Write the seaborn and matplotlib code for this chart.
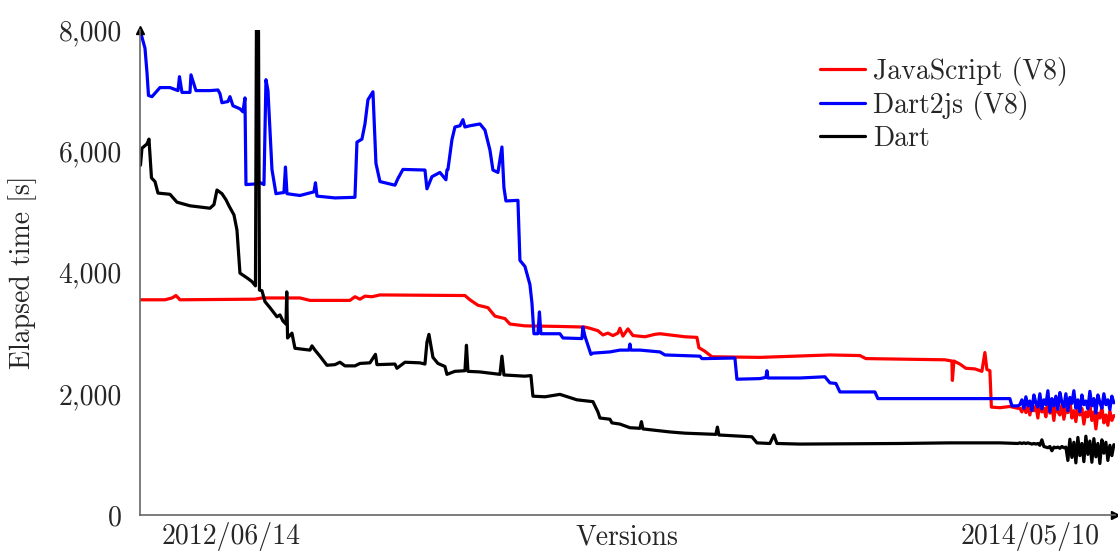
import numpy as np
import pandas as pd
import matplotlib
matplotlib.use("Agg")
import matplotlib.pyplot as plt
from matplotlib.ticker import FuncFormatter
import seaborn as sns

# version index vs elapsed time [s]
js_versions = [0, 25, 32, 36, 40, 115, 122, 160, 170, 210, 215, 220, 225, 232, 240,
               325, 330, 338, 348, 355, 365, 370, 385, 420, 445, 450, 458, 463, 468, 473,
               478, 480, 483, 488, 493, 505, 515, 520, 540, 545, 557, 559, 565, 572, 620,
               655, 690, 720, 726, 805, 812, 812.5, 814, 820, 826, 835, 842, 845, 847, 850,
               851.5, 860, 870, 878]
js_time = [3550, 3550, 3580, 3620, 3550, 3560, 3580, 3580, 3540, 3540, 3600, 3560, 3610, 3600, 3630,
           3620, 3550, 3460, 3420, 3280, 3240, 3150, 3120, 3110, 3100, 3080, 3040, 2970, 3000, 2960,
           3000, 3080, 2950, 3070, 2960, 2940, 2980, 2990, 2950, 2940, 2930, 2760, 2700, 2610, 2600,
           2620, 2640, 2630, 2580, 2560, 2540, 2220, 2540, 2490, 2420, 2410, 2370, 2680, 2400, 2380,
           1780, 1770, 1790, 1760]

d2js_versions = [0, 5, 7, 8.5, 12, 20, 30, 38, 39.5, 42, 50, 51, 56, 70, 78, 80, 82, 88, 90, 93,
                 100, 103, 105, 106, 115, 118, 124, 126, 128, 132, 136, 144, 145.5, 147, 160,
                 174, 175.5, 177, 195, 215, 217, 222, 225, 228, 233, 236, 240, 255, 258, 263,
                 285, 287, 292, 300, 306, 307, 308, 312, 315, 320, 323, 325, 330, 340, 345,
                 350, 353, 358, 362, 364, 366, 378, 380, 385, 390, 392, 394, 398, 399.5, 401,
                 420, 423, 442, 443, 445, 451, 453, 470, 480, 489, 490, 491, 500, 520, 525,
                 560, 562, 565, 595, 597, 620, 626, 627, 628, 660, 685, 690, 696, 700, 735,
                 738, 870, 872, 878]
d2js_time = [8000, 7700, 7300, 6920, 6900, 7050, 7050, 7000, 7230, 6970, 6970, 7260, 7000, 7000, 7010,
             6950, 6800, 6820, 6900, 6750, 6700, 6650, 6880, 5450, 5460, 5500, 5450, 7180, 7000, 5700,
             5300, 5320, 5740, 5300, 5270, 5330, 5480, 5260, 5230, 5240, 6150, 6200, 6450, 6850, 6980,
             5800, 5500, 5440, 5550, 5700, 5690, 5380, 5580, 5650, 5530, 5690, 5700, 6190, 6400, 6420,
             6520, 6400, 6420, 6450, 6350, 6020, 5690, 5650, 6070, 5400, 5180, 5190, 4200, 4100, 3800,
             3500, 2990, 2990, 3350, 2990, 2990, 2920, 2910, 3100, 2950, 2650, 2670, 2690, 2720, 2720,
             2820, 2720, 2720, 2690, 2640, 2620, 2580, 2580, 2590, 2240, 2250, 2270, 2380, 2260, 2260,
             2280, 2180, 2170, 2030, 2030, 1920, 1920, 1800, 1800]

dart_versions = [0.5, 2, 7, 9, 11.5, 15, 18, 30, 37, 50, 70, 74, 77, 82, 86, 89, 94, 97, 100, 108,
                 112, 115.5, 116.5, 118.5, 119.5, 122, 125, 130, 137, 140, 143, 146, 146.8, 147.6,
                 152, 155, 170, 172, 175, 180, 187, 195, 200, 205, 215, 220, 230, 235.5, 237, 255,
                 257, 265, 280, 285, 287, 289, 293, 298, 305, 307, 315, 325, 326.5, 328, 340, 350,
                 360, 362, 364, 385, 391, 393, 405, 420, 437, 453, 458, 460, 470, 472, 480, 490,
                 500, 501.5, 503, 530, 545, 576, 577.5, 579, 600, 612, 617, 630, 634, 637, 660,
                 760, 810, 860, 878]
dart_time = [5770, 6050, 6120, 6200, 5560, 5500, 5310, 5290, 5160, 5100, 5060, 5120, 5360, 5300, 5200,
             5100, 4950, 4700, 3990, 3900, 3850, 3780, 8200, 8200, 3710, 3700, 3520, 3420, 3270, 3300,
             3200, 3150, 3680, 2920, 3000, 2750, 2720, 2790, 2720, 2620, 2470, 2480, 2520, 2460, 2460,
             2500, 2510, 2650, 2480, 2490, 2420, 2520, 2510, 2490, 2850, 2980, 2600, 2500, 2450, 2320,
             2370, 2380, 2800, 2370, 2360, 2340, 2320, 2620, 2310, 2290, 2300, 1960, 1950, 1990, 1900,
             1870, 1700, 1600, 1580, 1520, 1500, 1440, 1430, 1540, 1420, 1370, 1350, 1330, 1450, 1320,
             1300, 1290, 1190, 1180, 1320, 1180, 1170, 1180, 1190, 1190, 1180]

# last versions (every second one), noisy measurements
tail_versions = list(range(880, 976, 2))
js_tail = [1760, 1700, 1820, 1690, 1780, 1650, 1850, 1720, 1800, 1600, 1880, 1700, 1760, 1620, 1900, 1680,
           1790, 1560, 1850, 1700, 1650, 1820, 1580, 1760, 1690, 1880, 1600, 1720, 1540, 1800, 1650, 1760,
           1500, 1700, 1620, 1820, 1560, 1700, 1420, 1680, 1600, 1780, 1520, 1650, 1480, 1720, 1560, 1640]
d2js_tail = [1820, 1900, 1760, 1950, 1800, 1880, 1720, 1980, 1850, 1780, 2000, 1750, 1900, 1820, 2050, 1700,
             1920, 1800, 1960, 1740, 2020, 1860, 1780, 2000, 1720, 1940, 1840, 2050, 1760, 1900, 1700, 1980,
             1820, 1880, 1750, 2040, 1800, 1920, 1680, 1980, 1860, 1760, 2000, 1820, 1900, 1740, 1960, 1850]
dart_tail = [1190, 1180, 1190, 1180, 1190, 1180, 1170, 1180, 1170, 1180, 1150, 1240, 1130, 1120, 1110, 1130,
             1060, 1120, 1110, 1120, 1100, 1130, 1110, 1120, 900, 1250, 950, 1200, 860, 1280, 980, 1180,
             880, 1300, 1000, 1220, 870, 1260, 960, 1180, 850, 1240, 1020, 1200, 900, 1150, 980, 1160]

labels = ["JavaScript (V8)", "Dart2js (V8)", "Dart"]
colors = ["#ff0000", "#0000ff", "#000000"]

frames = []
for name, xs, ys, ty in [(labels[0], js_versions, js_time, js_tail),
                         (labels[1], d2js_versions, d2js_time, d2js_tail),
                         (labels[2], dart_versions, dart_time, dart_tail)]:
    frames.append(pd.DataFrame({"Version": xs + tail_versions,
                                "Time": ys + ty,
                                "Benchmark": name}))
df = pd.concat(frames, ignore_index=True)

sns.set_style("white")
plt.rcParams["font.family"] = "serif"
plt.rcParams["font.serif"] = ["cmr10", "DejaVu Serif"]
plt.rcParams["mathtext.fontset"] = "cm"
plt.rcParams["axes.formatter.use_mathtext"] = True

fig = plt.figure(figsize=(11.18, 5.51), dpi=100)
ax = fig.add_axes([0.1252, 0.0653, 0.872, 0.8803])

sns.lineplot(data=df, x="Version", y="Time", hue="Benchmark", hue_order=labels,
             palette=colors, estimator=None, sort=False, linewidth=2.3, ax=ax)

ax.set_xlim(0, 975)
ax.set_ylim(0, 8000)
ax.set_yticks([0, 2000, 4000, 6000, 8000])
ax.yaxis.set_major_formatter(FuncFormatter(lambda v, p: f"{v:,.0f}"))
ax.set_xticks([91, 890])
ax.set_xticklabels(["2012/06/14", "2014/05/10"])

ax.tick_params(axis="y", direction="out", length=5, width=1, color="#808080",
               labelsize=20, pad=8)
ax.tick_params(axis="x", length=0, labelsize=20, pad=5)

ax.set_xlabel("Versions", fontsize=20)
ax.xaxis.set_label_coords(0.5, -0.018)
ax.xaxis.label.set_va("top")
ax.set_ylabel("Elapsed time [s]", fontsize=20)
ax.yaxis.set_label_coords(-0.106, 0.5)

for side in ["top", "right"]:
    ax.spines[side].set_visible(False)
for side in ["left", "bottom"]:
    ax.spines[side].set_color("#666666")
    ax.spines[side].set_linewidth(1.2)

# arrow heads on the axes
ax.plot(1, 0, ">", color="black", markersize=6, transform=ax.transAxes, clip_on=False)
ax.plot(0, 1, "^", color="black", markersize=6, transform=ax.transAxes, clip_on=False)

handles, lbls = ax.get_legend_handles_labels()
ax.legend(handles, lbls, loc="upper left", bbox_to_anchor=(0.698, 0.945),
          frameon=False, fontsize=20, handlelength=1.6, handletextpad=0.3,
          labelspacing=0.2, borderpad=0, borderaxespad=0)

fig.savefig("out.png", dpi=100)
